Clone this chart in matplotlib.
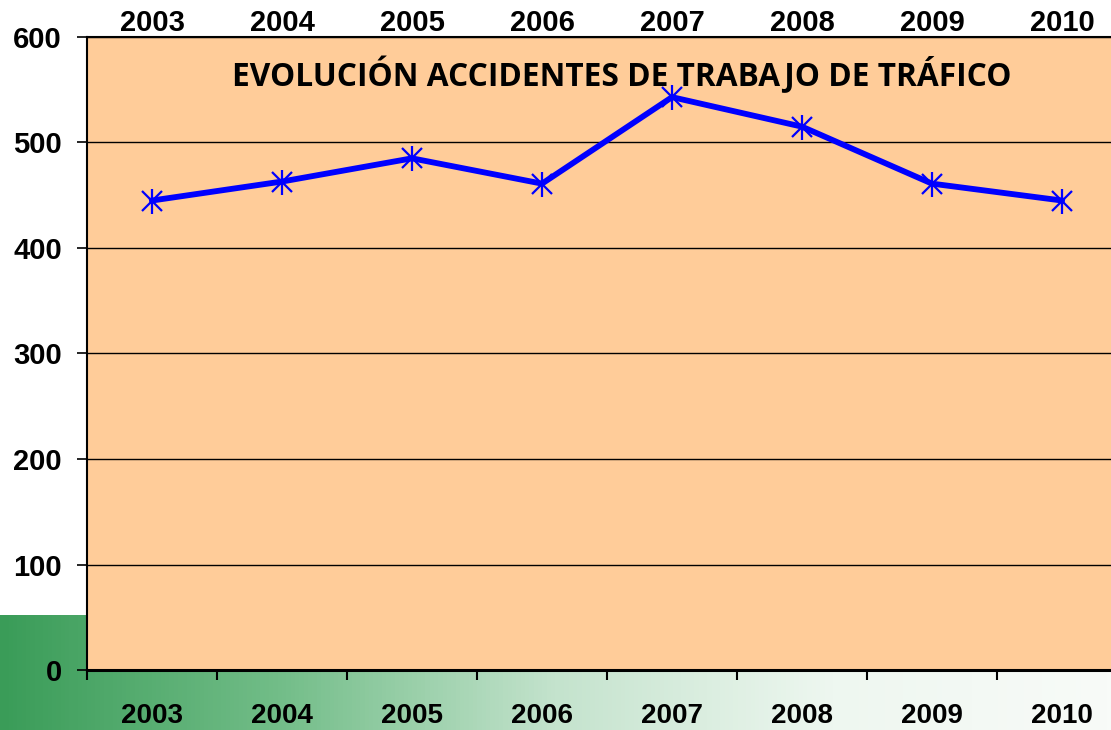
import numpy as np
import matplotlib
matplotlib.use("Agg")
import matplotlib.pyplot as plt
from matplotlib.colors import LinearSegmentedColormap

years = ["2003", "2004", "2005", "2006", "2007", "2008", "2009", "2010"]
accidentes = [445, 463, 485, 461, 543, 515, 461, 445]
titulo = "EVOLUCIÓN ACCIDENTES DE TRABAJO DE TRÁFICO"

W, H = 1111, 730
fig = plt.figure(figsize=(W / 100, H / 100), dpi=100)
fig.patch.set_facecolor("white")

# green slide band at the bottom
bg = fig.add_axes([0, 0, 1, 115 / H], zorder=-5)
green = LinearSegmentedColormap.from_list(
    "g", [(0.0, "#3a9c58"), (0.25, "#72bd88"), (0.5, "#c4e3cd"), (0.75, "#eef7f0"), (1.0, "#f8fbf8")])
bg.imshow(np.linspace(0, 1, 256)[None, :], aspect="auto", cmap=green, extent=(0, 1, 0, 1))
bg.axis("off")

# plot area: left=87, top=37, bottom=670, each category 130 px (cut at the right)
ax = fig.add_axes([87 / W, (H - 670) / H, 1040 / W, 633 / H])
ax.set_facecolor("#ffcc99")
x = np.arange(len(years))
ax.plot(x, accidentes, color="#0000ff", lw=4.2, zorder=3)
ax.plot(x, accidentes, ls="none", marker="x", ms=15, mew=1.6, color="#0000ff", zorder=4)
ax.plot(x, accidentes, ls="none", marker="|", ms=18, mew=1.6, color="#0000ff", zorder=4)

ax.set_xlim(-0.5, len(years) - 0.5)
ax.set_ylim(0, 600)
ax.set_yticks(range(0, 601, 100))
ax.yaxis.grid(True, color="black", lw=1.0)
ax.set_axisbelow(True)

ax.set_xticks(x)
ax.set_xticklabels(years)
ax.set_xticks(np.arange(-0.5, len(years)), minor=True)
ax.tick_params(axis="x", which="major", length=0, pad=24, labelsize=20)
ax.tick_params(axis="x", which="minor", length=7, width=1.5, direction="out", bottom=True, top=False)
ax.tick_params(axis="y", length=7, width=1.2, pad=11, labelsize=21)
for lab in ax.get_xticklabels() + ax.get_yticklabels():
    lab.set_fontweight("bold")
    lab.set_fontfamily("Liberation Sans")

# top year labels sit closer to the frame
sec = ax.secondary_xaxis("top")
sec.set_xticks(x)
sec.set_xticklabels(years, fontsize=21, fontweight="bold", fontfamily="Liberation Sans")
sec.tick_params(length=0, pad=0)
sec.spines["top"].set_visible(False)

for s in ["left", "top"]:
    ax.spines[s].set_linewidth(1.5)
ax.spines["bottom"].set_linewidth(2.2)
ax.spines["right"].set_visible(False)

fig.text(622 / W, 1 - 75 / H, titulo, ha="center", va="center",
         fontsize=22.8, fontweight="bold", fontfamily="Open Sans")

fig.savefig("out.png", dpi=100)
